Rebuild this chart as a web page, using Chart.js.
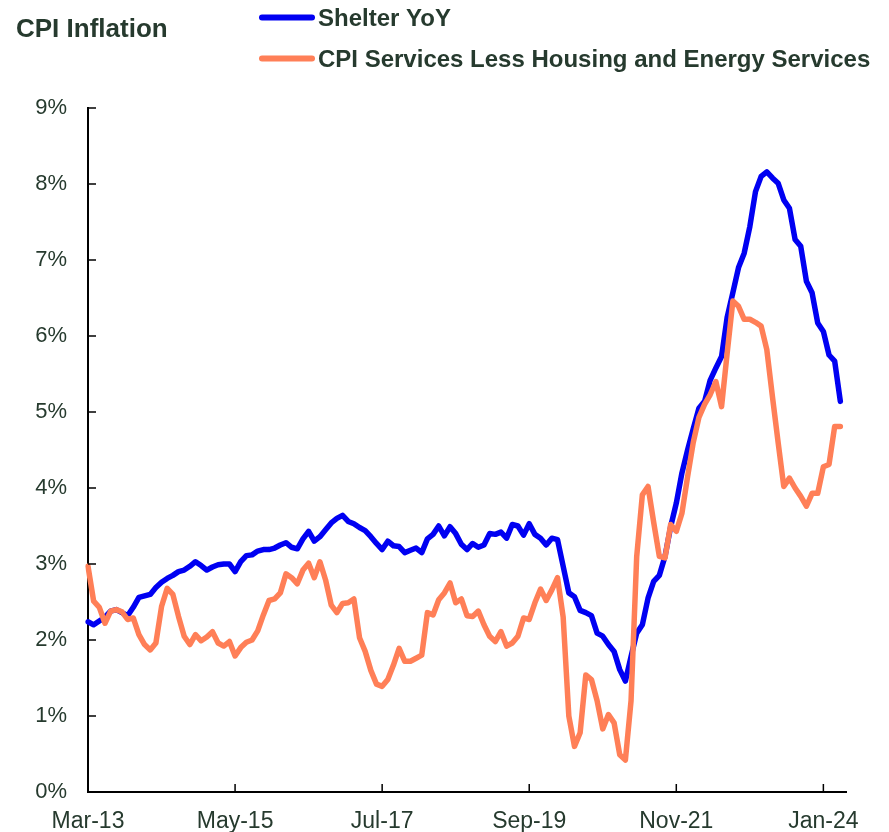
<!DOCTYPE html>
<html>
<head>
<meta charset="utf-8">
<title>CPI Inflation</title>
<script src="https://cdn.jsdelivr.net/npm/chart.js@4.4.1/dist/chart.umd.min.js"></script>
<style>
  html, body { margin: 0; padding: 0; background: #fff; }
  #wrap { position: relative; width: 889px; height: 832px; }
</style>
</head>
<body>
<div id="wrap"><canvas id="cpi-chart"></canvas></div>
<script>
const monthNames = ['Jan', 'Feb', 'Mar', 'Apr', 'May', 'Jun', 'Jul', 'Aug', 'Sep', 'Oct', 'Nov', 'Dec'];

// monthly slots from Mar-13; the final slot just pads the axis past the last reading
const months = [];
for (let i = 0; i < 135; i++) {
  const m = (2 + i) % 12;
  const yr = 13 + Math.floor((2 + i) / 12);
  months.push(monthNames[m] + '-' + String(yr).padStart(2, '0'));
}

const labelStep = 26; // one axis label every 26 months
const yTicks = [0, 1, 2, 3, 4, 5, 6, 7, 8, 9];

const shelterYoY = [
  2.24, 2.20, 2.25, 2.30, 2.38, 2.40, 2.36, 2.32, 2.43, 2.56,
  2.58, 2.60, 2.69, 2.76, 2.81, 2.85, 2.90, 2.92, 2.97, 3.03,
  2.98, 2.92, 2.96, 2.99, 3.00, 3.00, 2.90, 3.03, 3.11, 3.12,
  3.17, 3.19, 3.19, 3.21, 3.25, 3.28, 3.22, 3.20, 3.33, 3.43,
  3.30, 3.36, 3.45, 3.54, 3.60, 3.64, 3.56, 3.53, 3.48, 3.44,
  3.36, 3.27, 3.19, 3.30, 3.24, 3.23, 3.15, 3.18, 3.21, 3.15,
  3.33, 3.39, 3.50, 3.37, 3.49, 3.40, 3.26, 3.19, 3.27, 3.22,
  3.25, 3.40, 3.39, 3.42, 3.34, 3.52, 3.50, 3.38, 3.53, 3.39,
  3.34, 3.25, 3.34, 3.32, 2.97, 2.62, 2.57, 2.39, 2.36, 2.32,
  2.09, 2.05, 1.94, 1.85, 1.61, 1.46, 1.78, 2.09, 2.20, 2.55,
  2.77, 2.85, 3.10, 3.49, 3.80, 4.20, 4.50, 4.78, 5.05, 5.14,
  5.42, 5.58, 5.73, 6.25, 6.57, 6.90, 7.09, 7.44, 7.90, 8.10,
  8.16, 8.08, 8.01, 7.79, 7.68, 7.27, 7.18, 6.72, 6.57, 6.17,
  6.06, 5.75, 5.67, 5.14
];

const servicesExHousingEnergy = [
  2.97, 2.51, 2.43, 2.22, 2.38, 2.40, 2.37, 2.27, 2.29, 2.07,
  1.94, 1.87, 1.96, 2.44, 2.68, 2.60, 2.31, 2.05, 1.94, 2.07,
  1.99, 2.04, 2.11, 1.96, 1.92, 1.98, 1.79, 1.90, 1.97, 2.00,
  2.12, 2.33, 2.52, 2.54, 2.62, 2.87, 2.82, 2.74, 2.92, 3.01,
  2.82, 3.03, 2.79, 2.46, 2.36, 2.48, 2.49, 2.54, 2.03, 1.85,
  1.60, 1.42, 1.39, 1.48, 1.67, 1.89, 1.72, 1.72, 1.76, 1.80,
  2.36, 2.33, 2.53, 2.62, 2.75, 2.49, 2.54, 2.32, 2.31, 2.38,
  2.20, 2.05, 1.98, 2.11, 1.92, 1.96, 2.05, 2.29, 2.27, 2.49,
  2.67, 2.52, 2.66, 2.82, 2.30, 1.00, 0.60, 0.78, 1.54, 1.48,
  1.20, 0.83, 1.02, 0.91, 0.49, 0.42, 1.20, 3.10, 3.91, 4.02,
  3.55, 3.10, 3.08, 3.52, 3.43, 3.67, 4.15, 4.60, 4.93, 5.10,
  5.23, 5.40, 5.07, 5.78, 6.46, 6.39, 6.22, 6.22, 6.18, 6.13,
  5.82, 5.20, 4.60, 4.02, 4.13, 4.00, 3.89, 3.76, 3.93, 3.93,
  4.28, 4.31, 4.81, 4.81
];

const textColor = '#263a2e';
const fontFamily = '"Liberation Sans", Arial, Helvetica, sans-serif';

// short tick marks pointing into the plot, as on the printed chart
const innerTicks = {
  id: 'innerTicks',
  afterDraw(chart) {
    const { ctx } = chart;
    const x = chart.scales.x;
    const y = chart.scales.y;
    ctx.save();
    ctx.strokeStyle = '#000';
    ctx.lineWidth = 1.5;
    ctx.beginPath();
    y.ticks.forEach((t, i) => {
      const py = y.getPixelForTick(i);
      ctx.moveTo(y.right, py);
      ctx.lineTo(y.right + 8, py);
    });
    x.ticks.forEach((t, i) => {
      const px = x.getPixelForTick(i);
      ctx.moveTo(px, x.top);
      ctx.lineTo(px, x.top - 8);
    });
    ctx.stroke();
    ctx.restore();
  }
};

// title on the left, stacked legend to its right
const header = {
  id: 'header',
  afterDraw(chart) {
    const { ctx } = chart;
    ctx.save();
    ctx.fillStyle = textColor;
    ctx.textBaseline = 'alphabetic';
    ctx.font = 'bold 26px ' + fontFamily;
    ctx.fillText('CPI Inflation', 16, 36.5);

    ctx.font = 'bold 24px ' + fontFamily;
    const rows = [17.5, 58.5];
    chart.data.datasets.forEach((ds, i) => {
      const yMid = rows[i];
      ctx.strokeStyle = ds.borderColor;
      ctx.lineWidth = 6;
      ctx.lineCap = 'round';
      ctx.beginPath();
      ctx.moveTo(262, yMid);
      ctx.lineTo(312, yMid);
      ctx.stroke();
      ctx.fillText(ds.label, 318, yMid + 8);
    });
    ctx.restore();
  }
};

const cpiChart = new Chart(document.getElementById('cpi-chart'), {
  type: 'line',
  data: {
    labels: months,
    datasets: [
      {
        label: 'Shelter YoY',
        data: shelterYoY,
        borderColor: '#0000F2',
        borderWidth: 5.5,
        pointRadius: 0,
        tension: 0,
        borderJoinStyle: 'round',
        borderCapStyle: 'round',
        order: 2
      },
      {
        label: 'CPI Services Less Housing and Energy Services',
        data: servicesExHousingEnergy,
        borderColor: '#FF7F57',
        borderWidth: 5.5,
        pointRadius: 0,
        tension: 0,
        borderJoinStyle: 'round',
        borderCapStyle: 'round',
        order: 1
      }
    ]
  },
  options: {
    responsive: true,
    maintainAspectRatio: false,
    animation: false,
    layout: { padding: { left: 0, top: 108, right: 43, bottom: 0 } },
    plugins: {
      legend: { display: false },
      title: { display: false },
      tooltip: { enabled: false }
    },
    scales: {
      x: {
        type: 'category',
        offset: false,
        grid: { display: false, drawTicks: false },
        border: { display: true, color: '#000', width: 2 },
        afterBuildTicks: (scale) => {
          scale.ticks = scale.ticks.filter(t => t.value % labelStep === 0);
        },
        afterFit: (scale) => { scale.height = 40; },
        ticks: {
          autoSkip: false,
          maxRotation: 0,
          padding: 16,
          color: textColor,
          font: { family: fontFamily, size: 23 }
        }
      },
      y: {
        min: yTicks[0],
        max: yTicks[yTicks.length - 1],
        grid: { display: false, drawTicks: false },
        border: { display: true, color: '#000', width: 2 },
        afterBuildTicks: (scale) => {
          scale.ticks = yTicks.map(v => ({ value: v }));
        },
        afterFit: (scale) => { scale.width = 88; },
        ticks: {
          padding: 21,
          color: textColor,
          font: { family: fontFamily, size: 22 },
          callback: (v) => v + '%'
        }
      }
    }
  },
  plugins: [innerTicks, header]
});
</script>
</body>
</html>
